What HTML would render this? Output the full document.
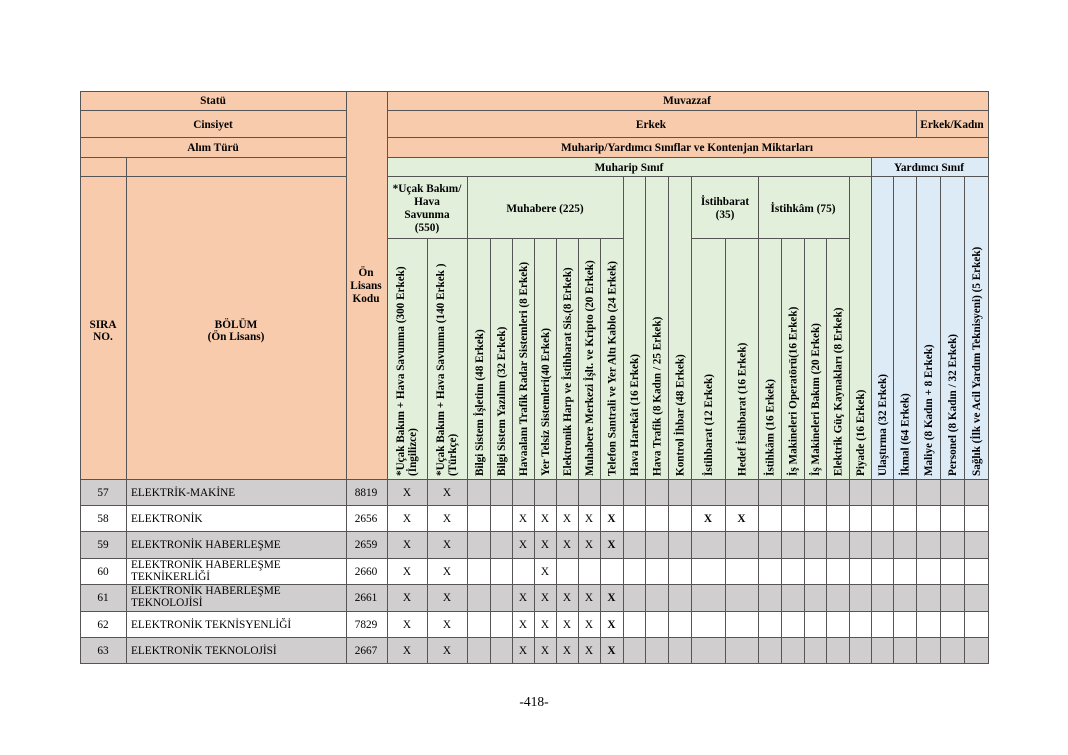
<!DOCTYPE html>
<html><head><meta charset="utf-8"><style>
html,body{margin:0;padding:0;background:#fff;width:1068px;height:755px;overflow:hidden}
svg{display:block}
text{font-family:"Liberation Serif",serif;font-size:11.3px;fill:#000}
.b{font-weight:bold}
.c{text-anchor:middle}
.v{font-weight:bold;font-size:11.2px}
</style></head><body>
<svg width="1068" height="755" viewBox="0 0 1068 755">
<rect x="80" y="91" width="908" height="66" fill="#f8cbad"/>
<rect x="80" y="157" width="307" height="322" fill="#f8cbad"/>
<rect x="387" y="157" width="484" height="322" fill="#e2efda"/>
<rect x="871" y="157" width="117" height="322" fill="#ddebf7"/>
<rect x="80" y="479" width="908" height="26" fill="#d0cece"/>
<rect x="80" y="531" width="908" height="27" fill="#d0cece"/>
<rect x="80" y="584" width="908" height="27" fill="#d0cece"/>
<rect x="80" y="637" width="908" height="26" fill="#d0cece"/>
<g stroke="#555" stroke-width="1" fill="none">
<rect x="80.5" y="91.5" width="908" height="572"/>
<path d="M80 110.5H346M387 110.5H988M80 137.5H346M387 137.5H988M80 157.5H346M387 157.5H988M80 176.5H346M387 176.5H988M387 238.5H623M691 238.5H849M80 479.5H988M80 505.5H988M80 531.5H988M80 558.5H988M80 584.5H988M80 611.5H988M80 637.5H988"/>
<path d="M126.5 157V663M346.5 91V663M387.5 91V663M916.5 110V137M916.5 176V663M871.5 157V663"/>
<path d="M427.5 238V663M490.5 238V663M512.5 238V663M534.5 238V663M556.5 238V663M578.5 238V663M600.5 238V663M725.5 238V663M781.5 238V663M804.5 238V663M826.5 238V663"/>
<path d="M467.5 176V663M623.5 176V663M645.5 176V663M668.5 176V663M691.5 176V663M758.5 176V663M849.5 176V663M893.5 176V663M940.5 176V663M964.5 176V663"/>
</g>
<g class="b">
<text class="c b" x="213" y="104">Statü</text>
<text class="c b" x="687" y="104">Muvazzaf</text>
<text class="c b" x="213" y="128">Cinsiyet</text>
<text class="c b" x="651" y="128">Erkek</text>
<text class="c b" x="952" y="128">Erkek/Kadın</text>
<text class="c b" x="213" y="151">Alım Türü</text>
<text class="c b" x="687" y="151">Muharip/Yardımcı Sınıflar ve Kontenjan Miktarları</text>
<text class="c b" x="629" y="171">Muharip Sınıf</text>
<text class="c b" x="929" y="171">Yardımcı Sınıf</text>
<text class="c b" x="427" y="192">*Uçak Bakım/</text>
<text class="c b" x="427" y="205">Hava</text>
<text class="c b" x="427" y="218">Savunma</text>
<text class="c b" x="427" y="231">(550)</text>
<text class="c b" x="545" y="212">Muhabere (225)</text>
<text class="c b" x="725" y="205">İstihbarat</text>
<text class="c b" x="725" y="218">(35)</text>
<text class="c b" x="803" y="212">İstihkâm (75)</text>
<text class="c b" x="366" y="276">Ön</text>
<text class="c b" x="366" y="289">Lisans</text>
<text class="c b" x="366" y="302">Kodu</text>
<text class="c b" x="103" y="328">SIRA</text>
<text class="c b" x="103" y="340">NO.</text>
<text class="c b" x="236" y="328">BÖLÜM</text>
<text class="c b" x="236" y="340">(Ön Lisans)</text>
</g>
<g class="v">
<text class="v" transform="translate(404,476) rotate(-90)">*Uçak Bakım + Hava Savunma (300 Erkek)</text>
<text class="v" transform="translate(416,476) rotate(-90)">(İngilizce)</text>
<text class="v" transform="translate(444,476) rotate(-90)">*Uçak Bakım + Hava Savunma (140 Erkek )</text>
<text class="v" transform="translate(456,476) rotate(-90)">(Türkçe)</text>
<text class="v" transform="translate(483,476) rotate(-90)">Bilgi Sistem İşletim (48 Erkek)</text>
<text class="v" transform="translate(505,476) rotate(-90)">Bilgi Sistem Yazılım (32 Erkek)</text>
<text class="v" transform="translate(527,476) rotate(-90)">Havaalanı Trafik Radar Sistemleri (8 Erkek)</text>
<text class="v" transform="translate(549,476) rotate(-90)">Yer Telsiz Sistemleri(40 Erkek)</text>
<text class="v" transform="translate(571,476) rotate(-90)">Elektronik Harp ve İstihbarat Sis.(8 Erkek)</text>
<text class="v" transform="translate(593,476) rotate(-90)">Muhabere Merkezi İşlt. ve Kripto (20 Erkek)</text>
<text class="v" transform="translate(615.5,476) rotate(-90)">Telefon Santrali ve Yer Altı Kablo (24 Erkek)</text>
<text class="v" transform="translate(638,476) rotate(-90)">Hava Harekât (16 Erkek)</text>
<text class="v" transform="translate(660.5,476) rotate(-90)">Hava Trafik (8 Kadın / 25 Erkek)</text>
<text class="v" transform="translate(683.5,476) rotate(-90)">Kontrol İhbar (48 Erkek)</text>
<text class="v" transform="translate(712,476) rotate(-90)">İstihbarat (12 Erkek)</text>
<text class="v" transform="translate(745.5,476) rotate(-90)">Hedef İstihbarat  (16 Erkek)</text>
<text class="v" transform="translate(773.5,476) rotate(-90)">İstihkâm (16 Erkek)</text>
<text class="v" transform="translate(796.5,476) rotate(-90)">İş Makineleri Operatörü(16 Erkek)</text>
<text class="v" transform="translate(819,476) rotate(-90)">İş Makineleri Bakım (20 Erkek)</text>
<text class="v" transform="translate(841.5,476) rotate(-90)">Elektrik Güç Kaynakları (8 Erkek)</text>
<text class="v" transform="translate(864,476) rotate(-90)">Piyade (16 Erkek)</text>
<text class="v" transform="translate(886,476) rotate(-90)">Ulaştırma (32 Erkek)</text>
<text class="v" transform="translate(908.5,476) rotate(-90)">İkmal (64 Erkek)</text>
<text class="v" transform="translate(932,476) rotate(-90)">Maliye (8 Kadın + 8 Erkek)</text>
<text class="v" transform="translate(956,476) rotate(-90)">Personel  (8 Kadın / 32 Erkek)</text>
<text class="v" transform="translate(980,476) rotate(-90)">Sağlık (İlk ve Acil Yardım Teknisyeni) (5 Erkek)</text>
</g>
<g>
<text class="c" x="103" y="496">57</text><text x="131" y="496">ELEKTRİK-MAKİNE</text><text class="c" x="366" y="496">8819</text>
<text class="c" x="407" y="496">X</text><text class="c" x="447" y="496">X</text>

<text class="c" x="103" y="522">58</text><text x="131" y="522">ELEKTRONİK</text><text class="c" x="366" y="522">2656</text>
<text class="c" x="407" y="522">X</text><text class="c" x="447" y="522">X</text>
<text class="c" x="523" y="522">X</text><text class="c" x="545" y="522">X</text><text class="c" x="567" y="522">X</text><text class="c" x="589" y="522">X</text><text class="c b" x="611.5" y="522">X</text>
<text class="c b" x="708" y="522">X</text><text class="c b" x="741.5" y="522">X</text>

<text class="c" x="103" y="548">59</text><text x="131" y="548">ELEKTRONİK HABERLEŞME</text><text class="c" x="366" y="548">2659</text>
<text class="c" x="407" y="548">X</text><text class="c" x="447" y="548">X</text>
<text class="c" x="523" y="548">X</text><text class="c" x="545" y="548">X</text><text class="c" x="567" y="548">X</text><text class="c" x="589" y="548">X</text><text class="c b" x="611.5" y="548">X</text>

<text class="c" x="103" y="575">60</text><text x="131" y="568">ELEKTRONİK HABERLEŞME</text><text x="131" y="580">TEKNİKERLİĞİ</text><text class="c" x="366" y="575">2660</text>
<text class="c" x="407" y="575">X</text><text class="c" x="447" y="575">X</text>
<text class="c" x="545" y="575">X</text>

<text class="c" x="103" y="601">61</text><text x="131" y="594">ELEKTRONİK HABERLEŞME</text><text x="131" y="606">TEKNOLOJİSİ</text><text class="c" x="366" y="601">2661</text>
<text class="c" x="407" y="601">X</text><text class="c" x="447" y="601">X</text>
<text class="c" x="523" y="601">X</text><text class="c" x="545" y="601">X</text><text class="c" x="567" y="601">X</text><text class="c" x="589" y="601">X</text><text class="c b" x="611.5" y="601">X</text>

<text class="c" x="103" y="628">62</text><text x="131" y="628">ELEKTRONİK TEKNİSYENLİĞİ</text><text class="c" x="366" y="628">7829</text>
<text class="c" x="407" y="628">X</text><text class="c" x="447" y="628">X</text>
<text class="c" x="523" y="628">X</text><text class="c" x="545" y="628">X</text><text class="c" x="567" y="628">X</text><text class="c" x="589" y="628">X</text><text class="c b" x="611.5" y="628">X</text>

<text class="c" x="103" y="654">63</text><text x="131" y="654">ELEKTRONİK TEKNOLOJİSİ</text><text class="c" x="366" y="654">2667</text>
<text class="c" x="407" y="654">X</text><text class="c" x="447" y="654">X</text>
<text class="c" x="523" y="654">X</text><text class="c" x="545" y="654">X</text><text class="c" x="567" y="654">X</text><text class="c" x="589" y="654">X</text><text class="c b" x="611.5" y="654">X</text>
</g>
<text class="c" x="534" y="706" style="font-size:13.5px">-418-</text>
</svg>
</body></html>
